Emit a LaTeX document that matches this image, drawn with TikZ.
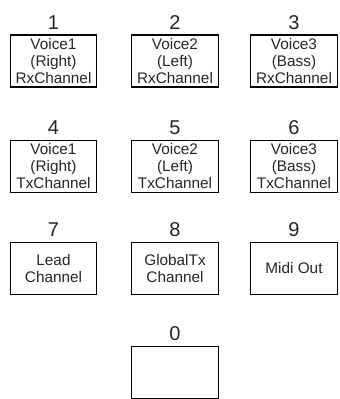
\documentclass[tikz,border=0pt]{standalone}
\usepackage{fontspec}
\setmainfont{Liberation Sans}
\usetikzlibrary{positioning}
\begin{document}
\begin{tikzpicture}[
  x=0.75pt, y=-0.75pt,
  key/.style={draw, line width=0.8pt, minimum width=65pt, minimum height=39pt,
    inner sep=0pt, align=center, text=black!85, font=\fontsize{11.5}{12.75}\selectfont},
  keynum/.style={inner sep=0pt, text=black!85, font=\fontsize{15}{15}\selectfont}
]
  \useasboundingbox (0,0) rectangle (339,399);

  % Column and row centres of the keypad (pixel units, y downwards)
  \def\cA{53.5} \def\cB{175} \def\cC{294}
  \def\rA{61} \def\rB{166.5} \def\rC{268.5} \def\rD{372.5}

  % Receive channels
  \node[key] (k1) at (\cA,\rA) {Voice1\\(Right)\\RxChannel};
  \node[key] (k2) at (\cB,\rA) {Voice2\\(Left)\\RxChannel};
  \node[key] (k3) at (\cC,\rA) {Voice3\\(Bass)\\RxChannel};

  % Transmit channels
  \node[key] (k4) at (\cA,\rB) {Voice1\\(Right)\\TxChannel};
  \node[key] (k5) at (\cB,\rB) {Voice2\\(Left)\\TxChannel};
  \node[key] (k6) at (\cC,\rB) {Voice3\\(Bass)\\TxChannel};

  % Other settings
  \node[key] (k7) at (\cA,\rC) {Lead\\Channel};
  \node[key] (k8) at (\cB,\rC) {GlobalTx\\Channel};
  \node[key] (k9) at (\cC,\rC) {Midi Out};

  \node[key] (k0) at (\cB,\rD) {};

  % Key numbers above each box
  \node[keynum, above=3.75pt of k1] (n1) {1};
  \node[keynum, above=3.75pt of k2] (n2) {2};
  \node[keynum, above=3.75pt of k3] (n3) {3};
  \node[keynum, above=3.75pt of k4] (n4) {4};
  \node[keynum, above=3.75pt of k5] (n5) {5};
  \node[keynum, above=3.75pt of k6] (n6) {6};
  \node[keynum, above=3.75pt of k7] (n7) {7};
  \node[keynum, above=3.75pt of k8] (n8) {8};
  \node[keynum, above=3.75pt of k9] (n9) {9};
  \node[keynum, above=3.75pt of k0] (n0) {0};

\end{tikzpicture}
\end{document}
